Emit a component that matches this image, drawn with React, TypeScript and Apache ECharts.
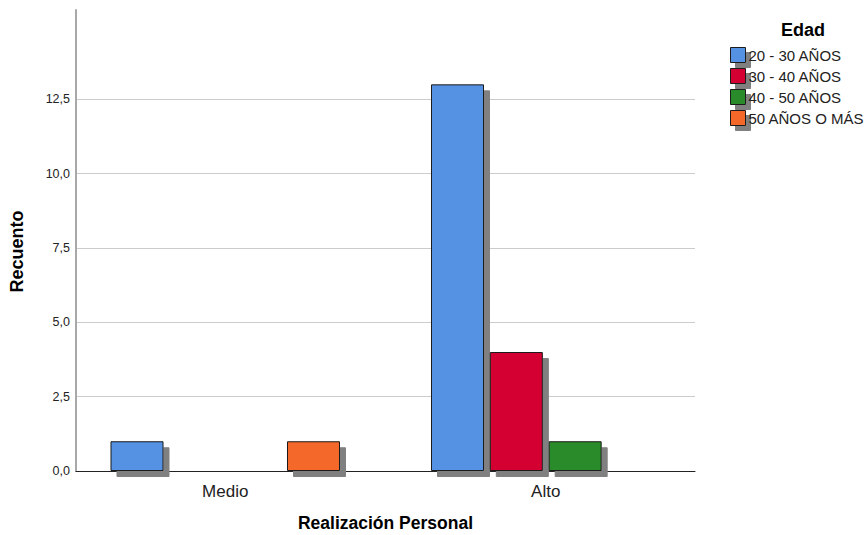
import React, { useEffect, useRef } from "react";
import * as echarts from "echarts";

const categories = ["Medio", "Alto"];
const seriesNames = ["20 - 30 AÑOS", "30 - 40 AÑOS", "40 - 50 AÑOS", "50 AÑOS O MÁS"];
const seriesColors = ["#5592e4", "#d50032", "#2b8b2b", "#f4692b"];
// counts per series: [Medio, Alto]
const v20a30 = [1, 13];
const v30a40 = [0, 4];
const v40a50 = [0, 1];
const v50mas = [1, 0];
const yMin = 0;
const yMax = 15.5; // top of the axis line
const yTickMax = 12.5; // last labelled tick / grid line
const yInterval = 2.5;

export default function App() {
  const ref = useRef<HTMLDivElement>(null);
  useEffect(() => {
    if (!ref.current) return;
    const chart = echarts.init(ref.current, undefined, { renderer: "svg" });
    const values = [v20a30, v30a40, v40a50, v50mas];
    const font = "'Liberation Sans', Arial, sans-serif";
    const H = 535;
    const top = 10;
    const bottom = 64;
    const plotH = H - top - bottom;
    const tickTop = H - bottom - (plotH * yTickMax) / yMax;
    chart.setOption({
      animation: false,
      textStyle: { fontFamily: font },
      title: {
        text: "Edad",
        left: 798,
        top: 16,
        textAlign: "center",
        textStyle: { fontSize: 18, fontWeight: "bold", color: "#000", fontFamily: font },
      },
      legend: {
        orient: "vertical",
        left: 730,
        top: 47,
        itemWidth: 15,
        itemHeight: 15,
        itemGap: 5,
        padding: 0,
        icon: "rect",
        itemStyle: {
          borderColor: "#1a1a1a",
          borderWidth: 1,
          shadowColor: "#808080",
          shadowBlur: 0,
          shadowOffsetX: 5,
          shadowOffsetY: 5,
        },
        textStyle: { fontSize: 15, color: "#222", fontFamily: font, padding: [0, 0, 0, -2] },
        data: seriesNames,
      },
      grid: [
        { left: 65, right: 160, top, bottom, outerBoundsMode: "none", containLabel: false },
        { left: 76, right: 171, top: tickTop, bottom, outerBoundsMode: "none", containLabel: false },
        { left: 76, right: 171, top, bottom, outerBoundsMode: "none", containLabel: false },
      ],
      xAxis: [
        {
          type: "category",
          gridIndex: 0,
          data: categories,
          axisLine: { show: false },
          axisTick: { show: false },
          axisLabel: { fontSize: 17, color: "#222", margin: 12, fontFamily: font },
        },
        {
          type: "value",
          gridIndex: 1,
          min: 0,
          max: 1,
          position: "bottom",
          axisLine: { show: true, onZero: false, lineStyle: { color: "#222", width: 1 } },
          axisTick: { show: false },
          axisLabel: { show: false },
          splitLine: { show: false },
          name: "Realización Personal",
          nameLocation: "middle",
          nameGap: 43,
          nameTextStyle: { fontSize: 17.5, fontWeight: "bold", color: "#000", fontFamily: font },
        },
        {
          type: "value",
          gridIndex: 2,
          min: 0,
          max: 1,
          show: false,
          splitLine: { show: false },
        },
      ],
      yAxis: [
        {
          type: "value",
          gridIndex: 0,
          min: yMin,
          max: yMax,
          show: false,
          splitLine: { show: false },
        },
        {
          type: "value",
          gridIndex: 1,
          min: yMin,
          max: yTickMax,
          interval: yInterval,
          axisLine: { show: false },
          axisTick: { show: false },
          axisLabel: {
            fontSize: 12.5,
            color: "#222",
            margin: 6,
            fontFamily: font,
            formatter: (v: number) => v.toFixed(1).replace(".", ","),
          },
          splitLine: { show: true, showMinLine: false, lineStyle: { color: "#cccccc", width: 1 } },
        },
        {
          type: "value",
          gridIndex: 2,
          min: yMin,
          max: yMax,
          position: "left",
          axisLine: { show: true, onZero: false, lineStyle: { color: "#a8a8a8", width: 2 } },
          axisTick: { show: false },
          axisLabel: { show: false },
          splitLine: { show: false },
          name: "Recuento",
          nameLocation: "middle",
          nameGap: 50,
          nameTextStyle: {
            fontSize: 18,
            fontWeight: "bold",
            color: "#000",
            fontFamily: font,
            padding: [0, 22, 0, 0],
          },
        },
      ],
      series: seriesNames.map((name, i) => ({
        name,
        type: "bar",
        xAxisIndex: 0,
        yAxisIndex: 0,
        barWidth: 53,
        barGap: "11%",
        data: values[i].map((v) => (v === 0 ? "-" : v)),
        itemStyle: {
          color: seriesColors[i],
          borderColor: "#1a1a1a",
          borderWidth: 1,
          shadowColor: "#808080",
          shadowBlur: 0,
          shadowOffsetX: 6,
          shadowOffsetY: 6,
        },
      })),
    });
    return () => chart.dispose();
  }, []);
  return (
    <div
      ref={ref}
      style={{ position: "fixed", left: 0, top: 0, width: 866, height: 535, background: "#fff" }}
    />
  );
}
